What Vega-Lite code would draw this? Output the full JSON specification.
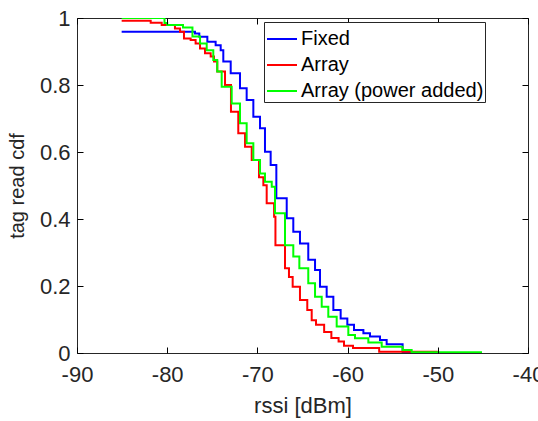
{
  "$schema": "https://vega.github.io/schema/vega-lite/v6.json",
  "width": 451,
  "height": 335,
  "autosize": {"type": "none"},
  "padding": {"left": 77, "top": 18, "right": 10, "bottom": 68},
  "background": "white",
  "config": {
    "view": {"stroke": "#262626", "strokeWidth": 1},
    "font": "Liberation Sans",
    "axis": {
      "grid": false,
      "domain": false,
      "labelFont": "Liberation Sans",
      "labelFontSize": 22,
      "labelColor": "#262626",
      "titleFont": "Liberation Sans",
      "titleFontSize": 22,
      "titleFontWeight": "normal",
      "titleColor": "#262626"
    },
    "legend": {
      "labelFont": "Liberation Sans",
      "labelFontSize": 20,
      "labelColor": "#000000",
      "labelLimit": 400
    }
  },
  "data": {
    "values": [
      {"s": "Fixed", "x": -85.05, "y": 0.959},
      {"s": "Fixed", "x": -76.92, "y": 0.954},
      {"s": "Fixed", "x": -76.44, "y": 0.944},
      {"s": "Fixed", "x": -75.55, "y": 0.929},
      {"s": "Fixed", "x": -74.63, "y": 0.919},
      {"s": "Fixed", "x": -74.07, "y": 0.904},
      {"s": "Fixed", "x": -73.78, "y": 0.870},
      {"s": "Fixed", "x": -72.96, "y": 0.835},
      {"s": "Fixed", "x": -71.93, "y": 0.790},
      {"s": "Fixed", "x": -71.19, "y": 0.755},
      {"s": "Fixed", "x": -70.45, "y": 0.705},
      {"s": "Fixed", "x": -69.71, "y": 0.671},
      {"s": "Fixed", "x": -69.16, "y": 0.601},
      {"s": "Fixed", "x": -68.53, "y": 0.561},
      {"s": "Fixed", "x": -67.90, "y": 0.462},
      {"s": "Fixed", "x": -66.75, "y": 0.402},
      {"s": "Fixed", "x": -66.02, "y": 0.362},
      {"s": "Fixed", "x": -65.28, "y": 0.327},
      {"s": "Fixed", "x": -64.36, "y": 0.278},
      {"s": "Fixed", "x": -63.61, "y": 0.248},
      {"s": "Fixed", "x": -63.06, "y": 0.198},
      {"s": "Fixed", "x": -62.32, "y": 0.168},
      {"s": "Fixed", "x": -61.58, "y": 0.128},
      {"s": "Fixed", "x": -60.77, "y": 0.103},
      {"s": "Fixed", "x": -60.03, "y": 0.084},
      {"s": "Fixed", "x": -59.29, "y": 0.069},
      {"s": "Fixed", "x": -58.25, "y": 0.059},
      {"s": "Fixed", "x": -57.52, "y": 0.049},
      {"s": "Fixed", "x": -56.41, "y": 0.039},
      {"s": "Fixed", "x": -55.67, "y": 0.026},
      {"s": "Fixed", "x": -53.90, "y": 0.003},
      {"s": "Fixed", "x": -52.50, "y": 0.003},
      {"s": "Array", "x": -85.05, "y": 0.992},
      {"s": "Array", "x": -81.83, "y": 0.986},
      {"s": "Array", "x": -80.61, "y": 0.979},
      {"s": "Array", "x": -79.14, "y": 0.969},
      {"s": "Array", "x": -78.58, "y": 0.959},
      {"s": "Array", "x": -78.14, "y": 0.939},
      {"s": "Array", "x": -77.40, "y": 0.934},
      {"s": "Array", "x": -76.85, "y": 0.924},
      {"s": "Array", "x": -76.36, "y": 0.909},
      {"s": "Array", "x": -75.81, "y": 0.895},
      {"s": "Array", "x": -75.18, "y": 0.885},
      {"s": "Array", "x": -74.81, "y": 0.870},
      {"s": "Array", "x": -74.45, "y": 0.840},
      {"s": "Array", "x": -73.59, "y": 0.800},
      {"s": "Array", "x": -72.93, "y": 0.720},
      {"s": "Array", "x": -72.12, "y": 0.656},
      {"s": "Array", "x": -71.37, "y": 0.616},
      {"s": "Array", "x": -70.63, "y": 0.576},
      {"s": "Array", "x": -69.82, "y": 0.525},
      {"s": "Array", "x": -69.34, "y": 0.501},
      {"s": "Array", "x": -68.97, "y": 0.447},
      {"s": "Array", "x": -68.15, "y": 0.407},
      {"s": "Array", "x": -68.00, "y": 0.322},
      {"s": "Array", "x": -66.94, "y": 0.253},
      {"s": "Array", "x": -66.50, "y": 0.227},
      {"s": "Array", "x": -66.09, "y": 0.198},
      {"s": "Array", "x": -65.28, "y": 0.158},
      {"s": "Array", "x": -64.47, "y": 0.128},
      {"s": "Array", "x": -63.98, "y": 0.098},
      {"s": "Array", "x": -63.50, "y": 0.084},
      {"s": "Array", "x": -62.60, "y": 0.063},
      {"s": "Array", "x": -61.80, "y": 0.045},
      {"s": "Array", "x": -61.00, "y": 0.034},
      {"s": "Array", "x": -60.40, "y": 0.022},
      {"s": "Array", "x": -59.40, "y": 0.015},
      {"s": "Array", "x": -56.50, "y": 0.004},
      {"s": "Array", "x": -50.00, "y": 0.004},
      {"s": "Array (power added)", "x": -85.05, "y": 1.0},
      {"s": "Array (power added)", "x": -80.30, "y": 0.985},
      {"s": "Array (power added)", "x": -80.00, "y": 0.979},
      {"s": "Array (power added)", "x": -78.25, "y": 0.972},
      {"s": "Array (power added)", "x": -77.20, "y": 0.945},
      {"s": "Array (power added)", "x": -76.36, "y": 0.924},
      {"s": "Array (power added)", "x": -75.62, "y": 0.904},
      {"s": "Array (power added)", "x": -74.89, "y": 0.875},
      {"s": "Array (power added)", "x": -74.45, "y": 0.840},
      {"s": "Array (power added)", "x": -73.96, "y": 0.795},
      {"s": "Array (power added)", "x": -72.85, "y": 0.745},
      {"s": "Array (power added)", "x": -71.93, "y": 0.686},
      {"s": "Array (power added)", "x": -71.19, "y": 0.626},
      {"s": "Array (power added)", "x": -70.45, "y": 0.576},
      {"s": "Array (power added)", "x": -69.71, "y": 0.536},
      {"s": "Array (power added)", "x": -69.16, "y": 0.511},
      {"s": "Array (power added)", "x": -68.41, "y": 0.496},
      {"s": "Array (power added)", "x": -68.05, "y": 0.417},
      {"s": "Array (power added)", "x": -66.94, "y": 0.322},
      {"s": "Array (power added)", "x": -66.02, "y": 0.288},
      {"s": "Array (power added)", "x": -65.35, "y": 0.253},
      {"s": "Array (power added)", "x": -64.36, "y": 0.208},
      {"s": "Array (power added)", "x": -63.61, "y": 0.168},
      {"s": "Array (power added)", "x": -62.87, "y": 0.138},
      {"s": "Array (power added)", "x": -62.14, "y": 0.108},
      {"s": "Array (power added)", "x": -61.21, "y": 0.079},
      {"s": "Array (power added)", "x": -59.92, "y": 0.054},
      {"s": "Array (power added)", "x": -59.18, "y": 0.044},
      {"s": "Array (power added)", "x": -57.70, "y": 0.031},
      {"s": "Array (power added)", "x": -56.22, "y": 0.019},
      {"s": "Array (power added)", "x": -53.90, "y": 0.009},
      {"s": "Array (power added)", "x": -52.90, "y": 0.002},
      {"s": "Array (power added)", "x": -45.10, "y": 0.002}
    ]
  },
  "layer": [
    {
      "mark": {"type": "line", "interpolate": "step-after", "strokeWidth": 2, "clip": true},
      "encoding": {
        "x": {
          "field": "x", "type": "quantitative",
          "scale": {"domain": [-90, -40], "nice": false, "zero": false},
          "axis": {"orient": "bottom", "values": [-90, -80, -70, -60, -50, -40], "labelExpr": "'' + datum.value", "ticks": true, "tickSize": 6, "tickColor": "#000000", "tickWidth": 1, "offset": -6, "labelPadding": 11, "title": "rssi [dBm]", "titlePadding": 10, "labelFlush": false, "labelOverlap": false, "zindex": 1}
        },
        "y": {
          "field": "y", "type": "quantitative",
          "scale": {"domain": [0, 1], "nice": false},
          "axis": {"orient": "left", "values": [0, 0.2, 0.4, 0.6, 0.8, 1], "format": ".1~f", "ticks": true, "tickSize": 6, "tickColor": "#000000", "tickWidth": 1, "offset": -6, "labelPadding": 7, "title": "tag read cdf", "titleFontSize": 20, "titlePadding": 12, "labelFlush": false, "labelOverlap": false, "zindex": 1}
        },
        "color": {
          "field": "s", "type": "nominal",
          "scale": {"domain": ["Fixed", "Array", "Array (power added)"], "range": ["#0000ff", "#ff0000", "#00ff00"]},
          "legend": {
            "title": null,
            "orient": "none",
            "legendX": 187,
            "legendY": 4,
            "symbolType": "stroke",
            "symbolSize": 900,
            "symbolStrokeWidth": 2,
            "symbolOffset": 1,
            "labelOffset": 3,
            "strokeColor": "#262626",
            "fillColor": "white",
            "padding": 1,
            "rowPadding": 0,
            "zindex": 2
          }
        }
      }
    },
    {
      "mark": {"type": "line", "strokeOpacity": 0},
      "encoding": {
        "x": {
          "field": "x", "type": "quantitative",
          "axis": {"orient": "top", "values": [-90, -80, -70, -60, -50, -40], "labels": false, "title": null, "ticks": true, "tickSize": 6, "tickColor": "#000000", "tickWidth": 1, "offset": -6, "zindex": 1}
        },
        "y": {
          "field": "y", "type": "quantitative",
          "axis": {"orient": "right", "values": [0, 0.2, 0.4, 0.6, 0.8, 1], "labels": false, "title": null, "ticks": true, "tickSize": 6, "tickColor": "#000000", "tickWidth": 1, "offset": -6, "zindex": 1}
        },
        "detail": {"field": "s"}
      }
    }
  ],
  "resolve": {"axis": {"x": "independent", "y": "independent"}}
}
